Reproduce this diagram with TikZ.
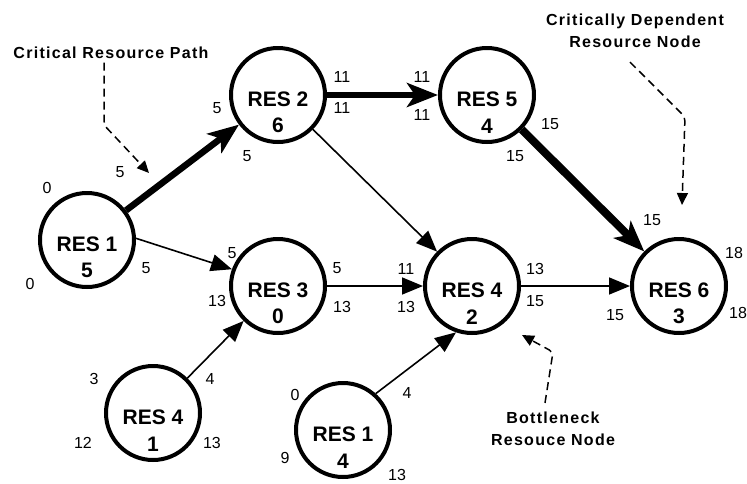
\documentclass[tikz,border=0pt]{standalone}
\usepackage{fontspec}
\setmainfont{Liberation Sans}
\newfontfamily\calloutfont{Liberation Sans}[LetterSpace=8]
\usetikzlibrary{arrows.meta}

\begin{document}
\begin{tikzpicture}[x=1pt, y=-1pt,
  res/.style={circle, draw, line width=4pt, minimum size=94pt, inner sep=0pt},
  restext/.style={font=\fontsize{21}{26.5}\selectfont\bfseries, align=center, inner sep=0pt},
  num/.style={font=\fontsize{16}{18}\selectfont, inner sep=0pt},
  callout/.style={font=\calloutfont\bfseries\fontsize{16}{22}\selectfont, align=center, inner sep=0pt},
  critarrow/.style={line width=6.5pt, -{Stealth[length=31pt, width=24pt, inset=8pt]}},
  flowarrow/.style={line width=1.6pt, -{Triangle[length=21pt, width=17pt]}},
  notearrow/.style={line width=1.5pt, dash pattern=on 8pt off 5pt, rounded corners=4pt,
    -{Triangle[length=12pt, width=11pt]}}]

\useasboundingbox (0,0) rectangle (747,483);

% resource nodes
\node[res] (r1)  at (87,240)  {};
\node[res] (r2)  at (278,95)  {};
\node[res] (r5)  at (487,95)  {};
\node[res] (r3)  at (278,286) {};
\node[res] (r4)  at (472,286) {};
\node[res] (r6)  at (679,286) {};
\node[res] (r4b) at (153,413) {};
\node[res] (r1b) at (343,430) {};

\node[restext] (t1)  at ([yshift=-17.5pt]r1.center)  {RES 1\\5};
\node[restext] (t2)  at ([yshift=-17.5pt]r2.center)  {RES 2\\6};
\node[restext] (t5)  at ([yshift=-17.5pt]r5.center)  {RES 5\\4};
\node[restext] (t3)  at ([yshift=-17.5pt]r3.center)  {RES 3\\0};
\node[restext] (t4)  at ([yshift=-17.5pt]r4.center)  {RES 4\\2};
\node[restext] (t6)  at ([yshift=-17.5pt]r6.center)  {RES 6\\3};
\node[restext] (t4b) at ([yshift=-17.5pt]r4b.center) {RES 4\\1};
\node[restext] (t1b) at ([yshift=-17.5pt]r1b.center) {RES 1\\4};

% critical path
\draw[critarrow] (r1) -- (r2);
\draw[critarrow] (r2) -- (r5);
\draw[critarrow, line width=8pt] (r5) -- (r6);

% other dependencies
\draw[flowarrow] (r2) -- (r4);
\draw[flowarrow] (r1.2) -- (r3.160);
\draw[flowarrow] (r3) -- (r4);
\draw[flowarrow] (r4) -- (r6);
\draw[flowarrow] (r4b) -- (r3);
\draw[flowarrow] (r1b.48) -- (r4.251);

% start / finish times
\node[num] (a1) at (47,188)  {0};
\node[num] (a2) at (30,284)  {0};
\node[num] (a3) at (146,268) {5};
\node[num] (a4) at (120,172) {5};
\node[num] (b1) at (217,108) {5};
\node[num] (b2) at (247,156) {5};
\node[num] (b3) at (342,77)  {11};
\node[num] (b4) at (342,108) {11};
\node[num] (c1) at (422,77)  {11};
\node[num] (c2) at (422,115) {11};
\node[num] (c3) at (550,124) {15};
\node[num] (c4) at (515,156) {15};
\node[num] (d1) at (232,253) {5};
\node[num] (d2) at (217,301) {13};
\node[num] (d3) at (337,268) {5};
\node[num] (d4) at (342,307) {13};
\node[num] (e1) at (94,379)  {3};
\node[num] (e2) at (210,379) {4};
\node[num] (e3) at (83,443)  {12};
\node[num] (e4) at (212,443) {13};
\node[num] (f1) at (295,395) {0};
\node[num] (f2) at (407,393) {4};
\node[num] (f3) at (285,458) {9};
\node[num] (f4) at (397,475) {13};
\node[num] (g1) at (406,269) {11};
\node[num] (g2) at (406,307) {13};
\node[num] (g3) at (535,269) {13};
\node[num] (g4) at (535,301) {15};
\node[num] (h1) at (652,220) {15};
\node[num] (h2) at (615,315) {15};
\node[num] (h3) at (734,253) {18};
\node[num] (h4) at (738,313) {18};

% annotations
\node[callout] (critpath) at (111,52.5) {Critical Resource Path};
\node[callout] (depnode)  at (635,31)   {Critically Dependent\\Resource Node};
\node[callout] (bottle)   at (553,429)  {Bottleneck\\Resouce Node};

\coordinate (k1) at (104,125);
\coordinate (p1) at (149,173);
\coordinate (k2) at (685,117);
\coordinate (p2) at (682,205);
\coordinate (k3) at (553,352);
\coordinate (p3) at (522,335);

\draw[notearrow] ([yshift=-4pt]critpath.south -| k1) -- (k1) -- (p1);
\draw[notearrow] ([xshift=-5pt, yshift=-14pt]depnode.south) -- (k2) -- (p2);
\draw[notearrow] ([xshift=-8pt, yshift=9pt]bottle.north) -- (k3) -- (p3);

\end{tikzpicture}
\end{document}
